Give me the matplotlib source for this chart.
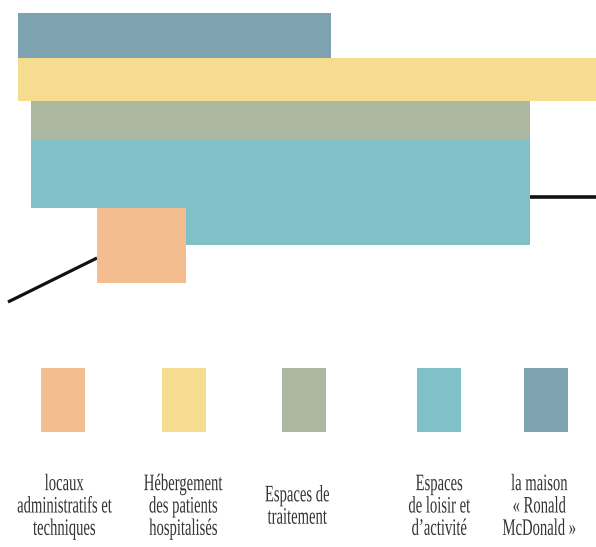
import matplotlib
matplotlib.use("Agg")
import matplotlib.pyplot as plt
from matplotlib.patches import Rectangle
from matplotlib.patheffects import AbstractPathEffect
from matplotlib.transforms import Affine2D

# legend categories and colours
labels = [
    "locaux\nadministratifs et\ntechniques",
    "Hébergement\ndes patients\nhospitalisés",
    "Espaces de\ntraitement",
    "Espaces\nde loisir et\nd\u2019activité",
    "la maison\n« Ronald\nMcDonald »",
]
colors = ["#f3bd90", "#f5dc8e", "#adb8a0", "#80c0c7", "#7ea3b0"]

# plan zones, in image pixels: category, left, right, top, bottom
zone_cat = [4, 1, 2, 3, 3, 0]
zone_x0 = [18, 18, 31, 31, 97, 97]
zone_x1 = [331, 596, 530, 530, 530, 186]
zone_y0 = [13, 58, 101, 139, 207, 208]
zone_y1 = [58, 101, 139, 208, 245, 283]

# access lines (x points, y points)
path_left_x = [8, 97]
path_left_y = [302, 258]
path_right_x = [530, 596]
path_right_y = [197, 197]

# legend layout
swatch_x = [63, 184, 304, 439, 546]
label_x = [64, 183, 297, 439, 539]

# condensed serif look: small font stretched upward
STRETCH = 1.0 / 0.62


class Tall(AbstractPathEffect):
    """stretch glyphs vertically from the baseline of each line"""
    def __init__(self, sy):
        super().__init__()
        self.sy = sy

    def draw_path(self, renderer, gc, tpath, affine, rgbFace=None):
        renderer.draw_path(gc, tpath, Affine2D().scale(1, self.sy) + affine, rgbFace)


fig = plt.figure(figsize=(5.96, 5.47), dpi=100)
ax = fig.add_axes([0, 0, 1, 1])
ax.set_xlim(0, 596)
ax.set_ylim(547, 0)
ax.axis("off")

ax.plot(path_left_x, path_left_y, color="#111111", lw=2.3, solid_capstyle="butt", zorder=1)
ax.plot(path_right_x, path_right_y, color="#111111", lw=2.6, solid_capstyle="butt", zorder=1)

for c, x0, x1, y0, y1 in zip(zone_cat, zone_x0, zone_x1, zone_y0, zone_y1):
    ax.add_patch(Rectangle((x0, y0), x1 - x0, y1 - y0, facecolor=colors[c],
                           edgecolor="none", zorder=2))

for i, (sx, lx) in enumerate(zip(swatch_x, label_x)):
    ax.add_patch(Rectangle((sx - 22, 368), 44, 64, facecolor=colors[i],
                           edgecolor="none", zorder=2))
    ax.text(lx, 509, labels[i], ha="center", va="center", multialignment="center",
            fontsize=17 / STRETCH, family="Liberation Serif", color="#333333",
            linespacing=1.2 * STRETCH, path_effects=[Tall(STRETCH)])

fig.savefig("out.png", dpi=100)
